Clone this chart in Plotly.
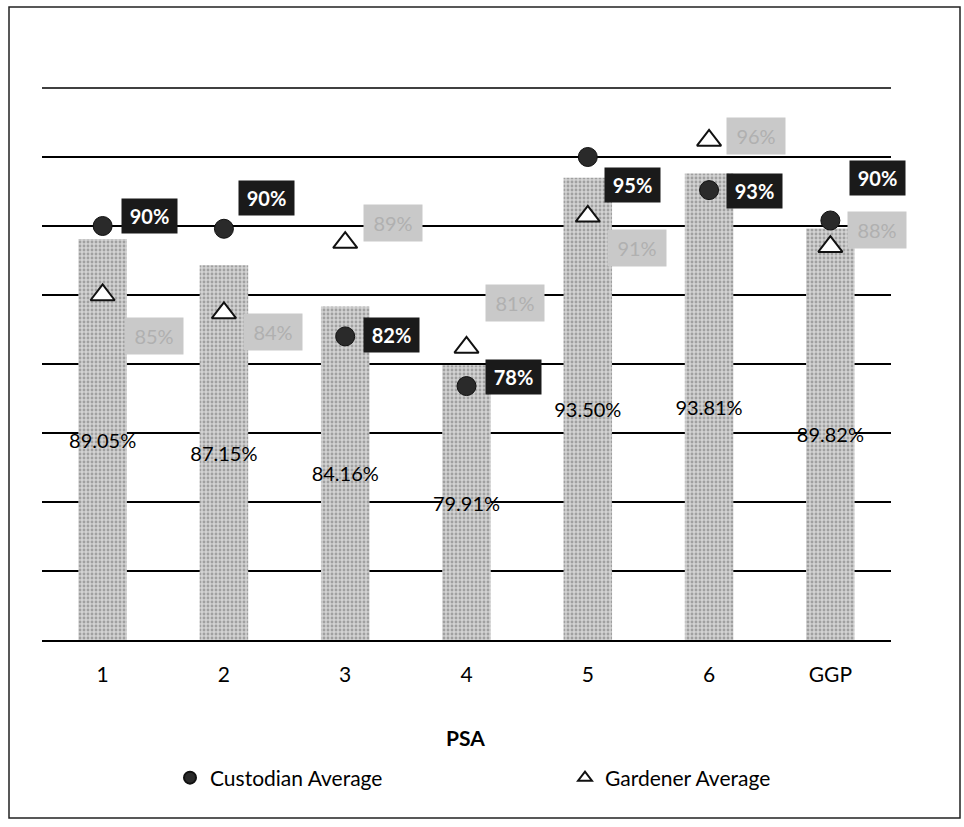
import plotly.graph_objects as go

# ---- data ----
categories = ["1", "2", "3", "4", "5", "6", "GGP"]
overall_pct = [89.05, 87.15, 84.16, 79.91, 93.50, 93.81, 89.82]
custodian_avg = [90.0, 89.8, 82.0, 78.4, 95.0, 92.6, 90.4]
gardener_avg = [85.0, 83.7, 88.8, 81.2, 90.7, 96.2, 88.5]

# ---- label offsets (pixels, dx right, dy up) ----
cust_offsets = [(47, 10), (43, 31), (46, 1), (47, 9), (45, -28), (45, -1), (47, 42)]
gard_offsets = [(51, -41), (49, -19), (48, 20), (48, 44), (49, -32), (47, 4), (47, 17)]

W, H = 964, 827
ML, MR, MT, MB = 42, 73, 88, 187
PW, PH = W - ML - MR, H - MT - MB
FONT = "Lato"

def px_to_paper_x(px):
    return (px - ML) / PW

def px_to_paper_y(py):
    return (H - MB - py) / PH

fig = go.Figure()

fig.add_trace(go.Bar(
    x=categories, y=[v - 60 for v in overall_pct], base=60,
    width=0.4,
    marker=dict(color="#c8c8c8",
                pattern=dict(shape=".", fgcolor="#6e6e6e", bgcolor="#d2d2d2",
                             size=4, solidity=0.4),
                line=dict(width=0)),
    text=[f"{v:.2f}%" for v in overall_pct],
    textposition="inside", insidetextanchor="middle", textangle=0,
    constraintext="none",
    textfont=dict(family=FONT, size=20, color="black"),
    showlegend=False, hoverinfo="skip", cliponaxis=False,
))

fig.add_trace(go.Scatter(
    x=categories, y=custodian_avg, mode="markers", name="Custodian Average",
    marker=dict(symbol="circle", size=19, color="#2a2a2a",
                line=dict(color="#111", width=1)),
))

fig.add_trace(go.Scatter(
    x=categories, y=gardener_avg, mode="markers", name="Gardener Average",
    marker=dict(symbol="triangle-up", size=21, color="white",
                line=dict(color="#111", width=2)),
))

annotations = []
for i, (v, (dx, dy)) in enumerate(zip(custodian_avg, cust_offsets)):
    annotations.append(dict(
        x=i, y=v, xref="x", yref="y", text=f"<b>{v:.0f}%</b>", showarrow=False,
        xshift=dx, yshift=dy, bgcolor="#1a1a1a", width=53, height=32, borderpad=1,
        font=dict(family=FONT, size=20, color="white"),
    ))
for i, (v, (dx, dy)) in enumerate(zip(gardener_avg, gard_offsets)):
    annotations.append(dict(
        x=i, y=v, xref="x", yref="y", text=f"{v:.0f}%", showarrow=False,
        xshift=dx, yshift=dy, bgcolor="#c9c9c9", width=56, height=34, borderpad=1,
        font=dict(family=FONT, size=20, color="#b0b0b0"),
    ))
annotations.append(dict(
    x=px_to_paper_x(465), y=px_to_paper_y(737), xref="paper", yref="paper",
    xanchor="center", yanchor="middle",
    text="<b>PSA</b>", showarrow=False, font=dict(family=FONT, size=21, color="black"),
))

shapes = [
    dict(type="rect", xref="paper", yref="paper",
         x0=px_to_paper_x(9), x1=px_to_paper_x(960),
         y0=px_to_paper_y(818), y1=px_to_paper_y(7),
         line=dict(color="#222", width=1.5)),
    dict(type="line", xref="paper", yref="paper", x0=0, x1=1, y0=1, y1=1,
         line=dict(color="black", width=1.5), layer="below"),
]

fig.update_layout(
    width=W, height=H,
    margin=dict(l=ML, r=MR, t=MT, b=MB, pad=0, autoexpand=False),
    paper_bgcolor="white", plot_bgcolor="white",
    font=dict(family=FONT, color="black"),
    bargap=0.6,
    annotations=annotations, shapes=shapes,
    legend=dict(orientation="h", x=px_to_paper_x(170), y=px_to_paper_y(778),
                xanchor="left", yanchor="middle",
                entrywidth=350, entrywidthmode="pixels",
                bgcolor="rgba(0,0,0,0)",
                font=dict(family=FONT, size=21, color="black"),
                itemsizing="constant"),
    xaxis=dict(showgrid=False, showline=True, linecolor="black", linewidth=2,
               range=[-0.5, 6.5],
               ticks="", tickfont=dict(family=FONT, size=21, color="black"),
               ticklabelstandoff=15, fixedrange=True),
    yaxis=dict(range=[60, 100], dtick=5, showgrid=True, gridcolor="black", gridwidth=1.5,
               showticklabels=False, zeroline=False, showline=False, ticks="",
               fixedrange=True),
)

fig.write_html("out.html", config={"displayModeBar": False},
               post_script="document.body.style.margin='0';")
